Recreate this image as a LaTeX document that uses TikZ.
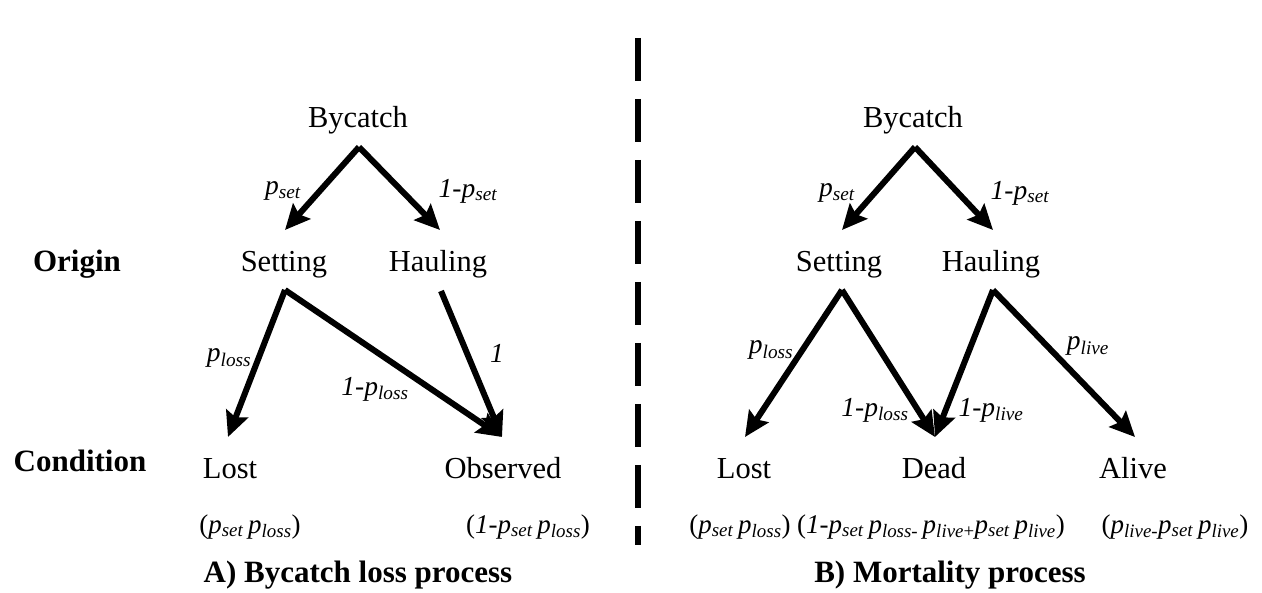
\documentclass[tikz,border=0pt]{standalone}
\usepackage{fontspec}
\setmainfont{Liberation Serif}
\usetikzlibrary{arrows.meta}
\newcommand\Ps[1]{\textit{p}\textsubscript{\textit{#1}}}
\begin{document}
\begin{tikzpicture}[x=1pt,y=-1pt,
  txt/.style={font=\fontsize{30.5}{36}\selectfont, anchor=base, inner sep=0pt},
  bld/.style={font=\fontsize{31}{36}\selectfont\bfseries, anchor=base, inner sep=0pt},
  lbl/.style={font=\fontsize{27.5}{32}\selectfont\itshape, inner sep=0pt},
  expr/.style={font=\fontsize{27}{32}\selectfont, anchor=base, inner sep=0pt},
  arr/.style={line width=6pt, -{Stealth[length=25pt,width=23pt,inset=4pt]}},
  sep/.style={line width=6pt, dash pattern=on 43.5pt off 17.5pt}]
\useasboundingbox (0,0) rectangle (1262,593);
% ---------- left panel ----------
\node[txt] (byA) at (358,128) {Bycatch};
\node[txt] (setA) at (284,272) {Setting};
\node[txt] (haulA) at (438,272) {Hauling};
\node[bld] (origin) at (77,272) {Origin};
\node[bld] (cond) at (80,472) {Condition};
\node[txt] (lostA) at (230,479) {Lost};
\node[txt] (obsA) at (503,479) {Observed};
\node[expr] (eLostA) at (250,533) {(\Ps{set}\,\Ps{loss})};
\node[expr] (eObsA) at (528,533) {(\textit{1-}\Ps{set}\,\Ps{loss})};
\node[bld] (titleA) at (358,583) {A) Bycatch loss process};
\coordinate (byA-o) at (359,147);
\coordinate (setA-i) at (285,230);
\coordinate (haulA-i) at (440,230);
\coordinate (setA-o) at (285,290);
\coordinate (haulA-o) at (441,291);
\coordinate (lostA-i) at (228,437);
\coordinate (obsA-i) at (502,437);
\draw[arr] (byA-o) -- (setA-i);
\draw[arr] (byA-o) -- (haulA-i);
\draw[arr] (setA-o) -- (lostA-i);
\draw[arr] (setA-o) -- (obsA-i);
\draw[arr] (haulA-o) -- (obsA-i);
\node[lbl] (lA1) at (283,191) {\Ps{set}};
\node[lbl] (lA2) at (468,191) {1-\Ps{set}};
\node[lbl] (lA3) at (229,358) {\Ps{loss}};
\node[lbl] (lA4) at (375,389) {1-\Ps{loss}};
\node[lbl] (lA5) at (497,353) {1};
% ---------- separator ----------
\coordinate (dtop) at (638,38);
\coordinate (dbot) at (638,545);
\draw[sep] (dtop) -- (dbot);
% ---------- right panel ----------
\node[txt] (byB) at (913,128) {Bycatch};
\node[txt] (setB) at (839,272) {Setting};
\node[txt] (haulB) at (991,272) {Hauling};
\node[txt] (lostB) at (744,479) {Lost};
\node[txt] (deadB) at (934,479) {Dead};
\node[txt] (aliveB) at (1133,479) {Alive};
\node[expr] (eLostB) at (740,533) {(\Ps{set}\,\Ps{loss})};
\node[expr] (eDeadB) at (931,533) {(\textit{1-}\Ps{set}\,\textit{p}\textsubscript{\textit{loss}-}\,\textit{p}\textsubscript{\textit{live}+}\Ps{set}\,\Ps{live})};
\node[expr] (eAliveB) at (1175,533) {(\textit{p}\textsubscript{\textit{live}-}\Ps{set}\,\Ps{live})};
\node[bld] (titleB) at (950,583) {B) Mortality process};
\coordinate (byB-o) at (915,147);
\coordinate (setB-i) at (842,230);
\coordinate (haulB-i) at (993,230);
\coordinate (setB-o) at (842,290);
\coordinate (haulB-o) at (993,290);
\coordinate (lostB-i) at (745,437);
\coordinate (deadB-i) at (935,437);
\coordinate (aliveB-i) at (1135,437);
\draw[arr] (byB-o) -- (setB-i);
\draw[arr] (byB-o) -- (haulB-i);
\draw[arr] (setB-o) -- (lostB-i);
\draw[arr] (setB-o) -- (deadB-i);
\draw[arr] (haulB-o) -- (deadB-i);
\draw[arr] (haulB-o) -- (aliveB-i);
\node[lbl] (lB1) at (837,193) {\Ps{set}};
\node[lbl] (lB2) at (1020,193) {1-\Ps{set}};
\node[lbl] (lB3) at (771,350) {\Ps{loss}};
\node[lbl] (lB4) at (875,410) {1-\Ps{loss}};
\node[lbl] (lB5) at (991,410) {1-\Ps{live}};
\node[lbl] (lB6) at (1088,346) {\Ps{live}};
\end{tikzpicture}
\end{document}
